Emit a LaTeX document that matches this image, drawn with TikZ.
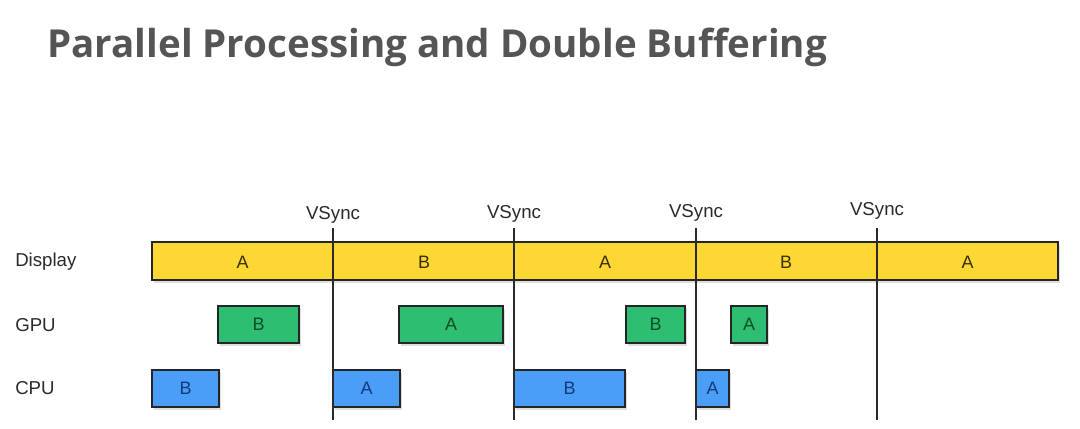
\documentclass[tikz,border=0pt]{standalone}
\usepackage{fontspec}
\setmainfont{Liberation Sans}
\newfontfamily\titlefont{Open Sans}
\usetikzlibrary{shadows}
\definecolor{ybar}{HTML}{FDD835}
\definecolor{gbox}{HTML}{2DBE72}
\definecolor{bbox}{HTML}{4A9EF7}
\definecolor{ytxt}{HTML}{3A2E00}
\definecolor{gtxt}{HTML}{0E4D2A}
\definecolor{btxt}{HTML}{123A7A}
\definecolor{edge}{HTML}{252525}
\definecolor{titlegray}{HTML}{555555}
\definecolor{lbl}{HTML}{2A2A2A}
\newcommand\mybox[7]{\node[#1, minimum width={(#4-#3)*0.75pt}, minimum height={(#6-#5)*0.75pt}] (#2) at ({(#3+#4)/2},{(#5+#6)/2}) {#7};}
\begin{document}
\begin{tikzpicture}[x=0.75pt,y=-0.75pt,
  base/.style={draw=edge, line width=1.1pt, inner sep=0pt, font=\fontsize{13.5}{15}\selectfont,
    drop shadow={shadow xshift=1.5pt, shadow yshift=-2.5pt, opacity=0.25}},
  ystyle/.style={base, fill=ybar, text=ytxt},
  gstyle/.style={base, fill=gbox, text=gtxt},
  bstyle/.style={base, fill=bbox, text=btxt},
  rowlbl/.style={anchor=west, text=lbl, font=\fontsize{14}{16}\selectfont, inner sep=0pt},
  vlbl/.style={text=lbl, font=\fontsize{14}{16}\selectfont, inner sep=0pt},
  vline/.style={draw=lbl, line width=1.1pt},
  seg/.style={text=ytxt, font=\fontsize{13.5}{15}\selectfont, inner sep=0pt}]
\useasboundingbox[fill=white] (0,0) rectangle (1080,428);
\node[anchor=base west, inner sep=0pt, text=titlegray, font=\titlefont\bfseries\fontsize{28.9}{34}\selectfont] (title) at (47,58) {Parallel Processing and Double Buffering};
% row labels
\node[rowlbl] (ldisp) at (15,262) {Display};
\node[rowlbl] (lgpu) at (15,325) {GPU};
\node[rowlbl] (lcpu) at (15,388) {CPU};
% display bar
\mybox{ystyle}{bar}{152}{1058}{242}{280}{}
\node[seg] (d1) at (242.5,262) {A};
\node[seg] (d2) at (424,262) {B};
\node[seg] (d3) at (605,262) {A};
\node[seg] (d4) at (786,262) {B};
\node[seg] (d5) at (967.5,262) {A};
% GPU
\mybox{gstyle}{g1}{218}{299}{306}{343}{B}
\mybox{gstyle}{g2}{399}{503}{306}{343}{A}
\mybox{gstyle}{g3}{626}{685}{306}{343}{B}
\mybox{gstyle}{g4}{731}{767}{306}{343}{A}
% CPU
\mybox{bstyle}{c1}{152}{219}{370}{407}{B}
\mybox{bstyle}{c2}{333}{400}{370}{407}{A}
\mybox{bstyle}{c3}{514}{625}{370}{407}{B}
\mybox{bstyle}{c4}{696}{729}{370}{407}{A}
% vsync lines
\foreach \i/\x/\y in {1/333/215,2/514/214,3/696/213,4/877/211}{
  \node[vlbl] (v\i) at (\x,\y) {VSync};
  \coordinate (vt\i) at (\x,228);
  \coordinate (vb\i) at (\x,420);
  \draw[vline] (vt\i) -- (vb\i);
}
\end{tikzpicture}
\end{document}
